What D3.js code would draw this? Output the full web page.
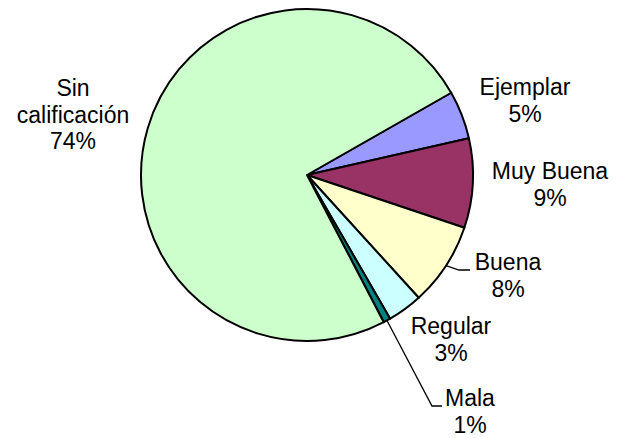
<!DOCTYPE html>
<html>
<head>
<meta charset="utf-8">
<script src="https://cdn.jsdelivr.net/npm/d3@7"></script>
<style>
  body { margin: 0; background: #fff; }
  text { font-family: "Liberation Sans", Arial, sans-serif; font-size: 23px; fill: #000; }
</style>
</head>
<body>
<div id="chart"></div>
<script>
// slices, clockwise from the upper right
var categories = ["Ejemplar", "Muy Buena", "Buena", "Regular", "Mala", "Sin calificación"]
var values = [4.7, 8.7, 8.1, 3.4, 0.7, 74.4]
var labelLines = [["Ejemplar"], ["Muy Buena"], ["Buena"], ["Regular"], ["Mala"], ["Sin", "calificación"]]
var colors = ["#9999FF", "#993366", "#FFFFCC", "#CCFFFF", "#008080", "#CCFFCC"]

var w = 620, h = 438
var cx = 307, cy = 175, r = 166

// where each label block sits (center x, first baseline)
var labelPos = [[525, 95], [550, 179], [508, 270], [451, 334], [470, 406], [73, 96]]

var svg = d3.select('#chart').append('svg')
  .attr('width', w)
  .attr('height', h)

var start = 60.3 * Math.PI / 180
var pie = d3.pie().sort(null).value(function(d) { return d })
  .startAngle(start).endAngle(start + 2 * Math.PI)
var arcs = pie(values)

var arc = d3.arc().innerRadius(0).outerRadius(r)

var g = svg.append('g').attr('transform', 'translate(' + cx + ',' + cy + ')')

g.selectAll('path')
  .data(arcs)
  .enter()
  .append('path')
  .attr('d', arc)
  .style('fill', function(d, i) { return colors[i] })
  .style('stroke', '#000')
  .style('stroke-width', 2)
  .style('stroke-linejoin', 'round')

// leader lines for Buena and Mala
function edgePoint(d) {
  var a = (d.startAngle + d.endAngle) / 2
  return [cx + r * Math.sin(a), cy - r * Math.cos(a)]
}
var leaders = [
  { i: 2, bend: [459, 270], end: [470, 270] },
  { i: 4, bend: [432, 406], end: [442, 406] }
]
leaders.forEach(function(l) {
  var p = edgePoint(arcs[l.i])
  svg.append('polyline')
    .attr('points', [p, l.bend, l.end].map(function(q) { return q.join(',') }).join(' '))
    .style('fill', 'none')
    .style('stroke', '#000')
    .style('stroke-width', 1.3)
})

var lineH = 26.7
arcs.forEach(function(d, i) {
  var lines = labelLines[i].concat([Math.round(values[i]) + '%'])
  var t = svg.append('text')
    .attr('text-anchor', 'middle')
  lines.forEach(function(s, k) {
    t.append('tspan')
      .attr('x', labelPos[i][0])
      .attr('y', labelPos[i][1] + k * lineH)
      .text(s)
  })
})
</script>
</body>
</html>
